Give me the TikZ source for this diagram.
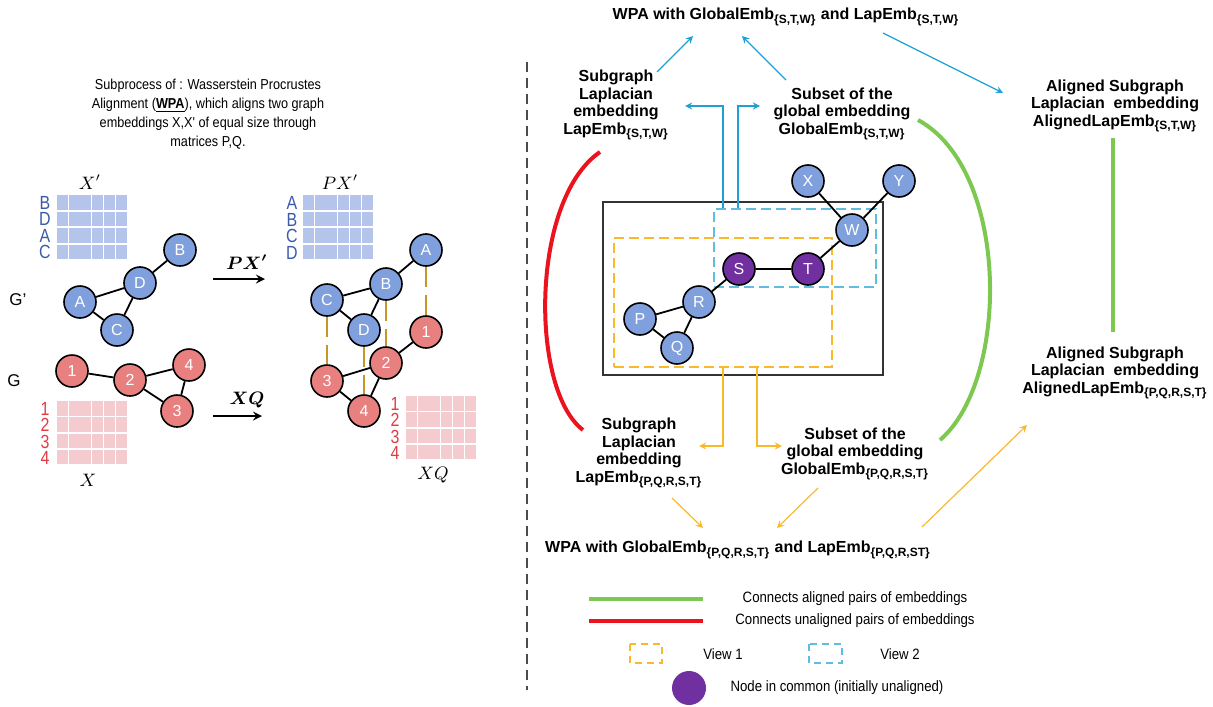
\documentclass[tikz,border=0pt]{standalone}
\usepackage{fontspec}
\setmainfont{Liberation Sans}
\newfontfamily\narrowfont{Liberation Sans}[FakeStretch=0.88]
\newfontfamily\rowfont{Liberation Sans}[FakeStretch=0.84]
\usepackage{bm}

\definecolor{nodeblue}{RGB}{127,159,221}
\definecolor{nodered}{RGB}{232,128,128}
\definecolor{commonpurple}{RGB}{112,48,160}
\definecolor{matblue}{RGB}{180,196,234}
\definecolor{matpink}{RGB}{244,204,208}
\definecolor{labblue}{RGB}{60,90,170}
\definecolor{labred}{RGB}{225,60,70}
\definecolor{matchgold}{RGB}{200,150,40}
\definecolor{viewblue}{RGB}{30,160,210}
\definecolor{viewyellow}{RGB}{250,185,40}
\definecolor{alignedgreen}{RGB}{125,200,80}
\definecolor{unalignedred}{RGB}{235,20,30}

\newcommand{\embsub}[1]{\textsubscript{\{#1\}}}

\begin{document}
\begin{tikzpicture}[x=0.5pt, y=-0.5pt, >=stealth,
  gnode/.style={circle, draw=black, line width=0.8pt, minimum size=16pt, inner sep=0pt,
    text=white, font=\fontsize{8}{8}\selectfont},
  bnode/.style={gnode, fill=nodeblue},
  rnode/.style={gnode, fill=nodered},
  cnode/.style={gnode, fill=commonpurple},
  edge/.style={line width=0.9pt},
  match/.style={draw=matchgold, line width=1pt, dash pattern=on 10pt off 4pt},
  rowlab/.style={inner sep=0pt, align=center},
  mathlab/.style={inner sep=0pt, font=\fontsize{9}{9}\selectfont},
  lab/.style={align=center, inner sep=1pt, font=\fontsize{8}{8.9}\selectfont\bfseries},
  legtext/.style={inner sep=0pt, font=\narrowfont\fontsize{7.5}{7.5}\selectfont},
  bluearrow/.style={->, draw=viewblue, line width=0.6pt},
  yellowarrow/.style={->, draw=viewyellow, line width=0.6pt},
  aligned/.style={draw=alignedgreen, line width=2pt},
  unaligned/.style={draw=unalignedred, line width=2pt},
  view1/.style={draw=viewyellow, line width=0.8pt, dash pattern=on 5pt off 2.5pt},
  view2/.style={draw=viewblue!70, line width=0.8pt, dash pattern=on 5pt off 2.5pt}]

\useasboundingbox (0,0) rectangle (1213,706);

% ---------------- Left: WPA subprocess ----------------
\node[align=center, inner sep=0pt, font=\narrowfont\fontsize{7.2}{9.6}\selectfont] (desc) at (208,114)
  {Subprocess of : Wasserstein Procrustes\\
   Alignment (\underline{\textbf{WPA}}), which aligns two graph\\
   embeddings X,X' of equal size through\\
   matrices P,Q.};

% Embedding matrices
\foreach \mx/\my/\py/\mcol in {57/195/16.5/matblue, 303/195/16.5/matblue, 57/401/16.3/matpink, 406/396/16.3/matpink}
  \foreach \r in {0,...,3}
    \foreach \c in {0,...,5}
      \fill[\mcol] ({\mx+\c*11.7},{\my+\r*\py}) rectangle ++(11,14.5);

% Row labels
\node[rowlab, text=labblue, font=\rowfont\fontsize{9.5}{8.25}\selectfont] (xprows) at (45,227.75) {B\\D\\A\\C};
\node[rowlab, text=labblue, font=\rowfont\fontsize{9.5}{8.25}\selectfont] (pxrows) at (292,227.75) {A\\B\\C\\D};
\node[rowlab, text=labred, font=\rowfont\fontsize{9.5}{8.15}\selectfont] (xrows) at (45,433.5) {1\\2\\3\\4};
\node[rowlab, text=labred, font=\rowfont\fontsize{9.5}{8.15}\selectfont] (xqrows) at (395,428.5) {1\\2\\3\\4};

% Matrix names
\node[mathlab] (xplab) at (90,182) {$X'$};
\node[mathlab] (pxplab) at (340,182) {$PX'$};
\node[mathlab] (xlab) at (88,480) {$X$};
\node[mathlab] (xqlab) at (433,475) {$XQ$};

% Graph names
\node[inner sep=0pt, font=\fontsize{8.5}{8.5}\selectfont] (gplab) at (18,300) {G'};
\node[inner sep=0pt, font=\fontsize{8.5}{8.5}\selectfont] (glab) at (14,381) {G};

% Graph G'
\node[bnode] (gpB) at (180,250) {B};
\node[bnode] (gpD) at (140,283) {D};
\node[bnode] (gpA) at (80,302) {A};
\node[bnode] (gpC) at (117,330) {C};
\draw[edge] (gpB) -- (gpD) (gpD) -- (gpA) (gpA) -- (gpC) (gpC) -- (gpD);

% Graph G
\node[rnode] (g1) at (72,371) {1};
\node[rnode] (g2) at (130,380) {2};
\node[rnode] (g4) at (189,365) {4};
\node[rnode] (g3) at (177,411) {3};
\draw[edge] (g1) -- (g2) (g2) -- (g4) (g4) -- (g3) (g3) -- (g2);

% Transform arrows
\coordinate (pxstart) at (213,279);
\coordinate (pxend) at (265,279);
\coordinate (xqstart) at (213,416);
\coordinate (xqend) at (262,416);
\draw[->, line width=1pt] (pxstart) -- (pxend);
\draw[->, line width=1pt] (xqstart) -- (xqend);
\node[mathlab] (pxarrow) at (247,262) {$\bm{PX'}$};
\node[mathlab] (xqarrow) at (247,400) {$\bm{XQ}$};

% Aligned graphs
\node[bnode] (pA) at (426,250) {A};
\node[bnode] (pB) at (386,284) {B};
\node[bnode] (pC) at (327,300) {C};
\node[bnode] (pD) at (364,330) {D};
\node[rnode] (q1) at (426,332) {1};
\node[rnode] (q2) at (386,363) {2};
\node[rnode] (q3) at (327,381) {3};
\node[rnode] (q4) at (364,411) {4};
\draw[edge] (pA) -- (pB) (pB) -- (pC) (pB) -- (pD) (pC) -- (pD);
\draw[edge] (q1) -- (q2) (q2) -- (q3) (q2) -- (q4) (q3) -- (q4);
\foreach \u/\v in {A/1, B/2, C/3, D/4}
  \draw[match] (p\u) -- (q\v);

% Separator
\draw[gray!60!black, line width=0.7pt, dash pattern=on 5pt off 3pt] (527,62) -- (527,690);

% ---------------- Right: two views ----------------
\node[draw=black!80, line width=1pt, minimum width=140pt, minimum height=86.5pt, inner sep=0pt] (frame) at (743,288.5) {};
\node[view1, minimum width=109pt, minimum height=64.5pt, inner sep=0pt] (view1) at (723,302.5) {};
\node[view2, minimum width=81pt, minimum height=39pt, inner sep=0pt] (view2) at (795,248) {};

\node[bnode] (nX) at (808,181) {X};
\node[bnode] (nY) at (899,181) {Y};
\node[bnode] (nW) at (852,230) {W};
\node[cnode] (nS) at (739,269) {S};
\node[cnode] (nT) at (808,269) {T};
\node[bnode] (nR) at (699,302) {R};
\node[bnode] (nP) at (640,319) {P};
\node[bnode] (nQ) at (677,348) {Q};
\draw[edge] (nX) -- (nW) (nY) -- (nW) (nW) -- (nT) (nS) -- (nT)
  (nR) -- (nS) (nP) -- (nR) (nP) -- (nQ) (nQ) -- (nR);

% Embedding labels
\node[lab] (wpaSTW) at (786,17) {WPA with GlobalEmb\embsub{S,T,W} and LapEmb\embsub{S,T,W}};
\node[lab] (lapSTW) at (616,105) {Subgraph\\Laplacian\\embedding\\LapEmb\embsub{S,T,W}};
\node[lab] (globSTW) at (842,114) {Subset of the\\global embedding\\GlobalEmb\embsub{S,T,W}};
\node[lab] (alignSTW) at (1115,106) {Aligned Subgraph\\Laplacian~ embedding\\AlignedLapEmb\embsub{S,T,W}};
\node[lab] (alignPQ) at (1115,373) {Aligned Subgraph\\Laplacian~ embedding\\AlignedLapEmb\embsub{P,Q,R,S,T}};
\node[lab] (lapPQ) at (639,453) {Subgraph\\Laplacian\\embedding\\LapEmb\embsub{P,Q,R,S,T}};
\node[lab] (globPQ) at (855,454) {Subset of the\\global embedding\\GlobalEmb\embsub{P,Q,R,S,T}};
\node[lab] (wpaPQ) at (738,550) {WPA with GlobalEmb\embsub{P,Q,R,S,T} and LapEmb\embsub{P,Q,R,ST}};

% View 2 flow
\draw[bluearrow] ([shift={(-72,0)}]view2.north) |- ([shift={(69,1)}]lapSTW.center);
\draw[bluearrow] ([shift={(-57,0)}]view2.north) |- ([shift={(-82,-8)}]globSTW.center);
\draw[bluearrow] ([shift={(41,-33)}]lapSTW.center) -- ([shift={(-93,19)}]wpaSTW.center);
\draw[bluearrow] ([shift={(-56,-34)}]globSTW.center) -- ([shift={(-44,19)}]wpaSTW.center);
\draw[bluearrow] ([shift={(97,16)}]wpaSTW.center) -- ([shift={(-112,-13)}]alignSTW.center);

% View 1 flow
\draw[yellowarrow] (view1.south) |- ([shift={(60,-7)}]lapPQ.center);
\draw[yellowarrow] ([shift={(34,0)}]view1.south) |- ([shift={(-73,-8)}]globPQ.center);
\draw[yellowarrow] ([shift={(33,45)}]lapPQ.center) -- ([shift={(-35,-22)}]wpaPQ.center);
\draw[yellowarrow] ([shift={(-37,34)}]globPQ.center) -- ([shift={(39,-22)}]wpaPQ.center);
\draw[yellowarrow] ([shift={(184,-23)}]wpaPQ.center) -- ([shift={(-88,52)}]alignPQ.center);

% Pairs of embeddings
\draw[unaligned] ([shift={(-16,47)}]lapSTW.center) .. controls (530,200) and (530,390) .. ([shift={(-56,-23)}]lapPQ.center);
\draw[aligned] ([shift={(76,6)}]globSTW.center) .. controls (1010,170) and (1010,380) .. ([shift={(85,-14)}]globPQ.center);
\draw[aligned] ([shift={(-2,32)}]alignSTW.center) -- ([shift={(-2,-41)}]alignPQ.center);

% ---------------- Legend ----------------
\node[legtext] (legaligned) at (855,599) {Connects aligned pairs of embeddings};
\node[legtext] (legunaligned) at (855,621) {Connects unaligned pairs of embeddings};
\node[legtext] (legview1) at (723,654) {View 1};
\node[legtext] (legview2) at (900,654) {View 2};
\node[legtext] (legcommon) at (837,688) {Node in common (initially unaligned)};
\draw[aligned] (589,599) -- (703,599);
\draw[unaligned] (589,621) -- (703,621);
\draw[draw=viewyellow, line width=0.6pt, dash pattern=on 3.5pt off 2.5pt] (630,644) rectangle (662,663);
\draw[draw=viewblue!70, line width=0.6pt, dash pattern=on 3.5pt off 2.5pt] (809,644) rectangle (842,663);
\fill[commonpurple] (689,688) circle (8.5pt);

\end{tikzpicture}
\end{document}
